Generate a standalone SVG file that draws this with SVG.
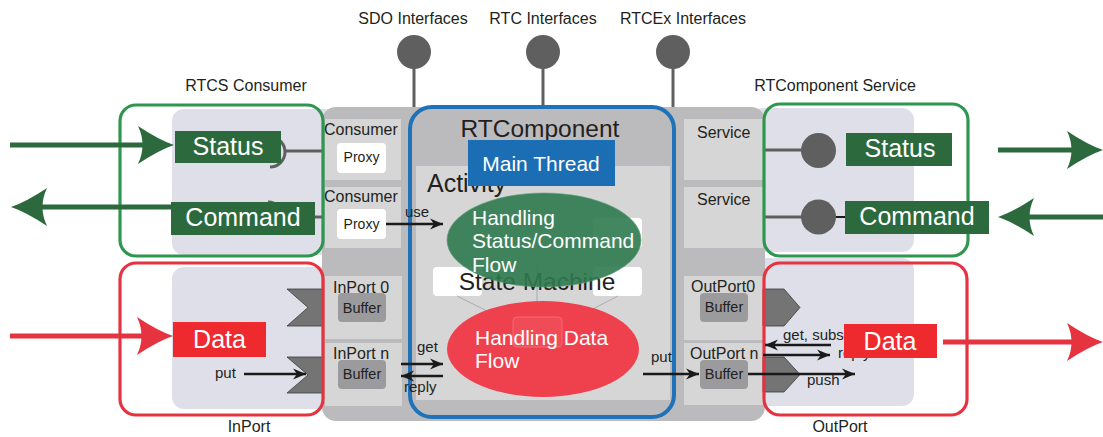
<svg xmlns="http://www.w3.org/2000/svg" width="1103" height="437" viewBox="0 0 1103 437">
<style>
text{font-family:"Liberation Sans",Arial,sans-serif;fill:#231f20}
.lbl{font-size:16px}
.sm{font-size:15px}
.wh{fill:#fff}
.big{font-size:25px;fill:#fff}
.cell{fill:#d6d6d6}
.buf{fill:#9b9b9d}
.prx{fill:#fff}
.lav{fill:#dfdfe9}
.gbox{fill:none;stroke:#2f9650;stroke-width:3.2}
.rbox{fill:none;stroke:#e63340;stroke-width:3.2}
.gfill{fill:#2c6a3d}
.rfill{fill:#ee2a2e}
.iface{fill:#5f5f5f}
.stem{stroke:#5f5f5f;stroke-width:3;fill:none}
.blk{stroke:#1a1a1a;stroke-width:2.5;fill:none;marker-end:url(#ah)}
.bigg{stroke:#2c6a3d;stroke-width:5;fill:none}
.bigr{stroke:#e63340;stroke-width:5;fill:none}
.chev{fill:#747474;stroke:#3a3a3a;stroke-width:0.8}
</style>
<defs>
<marker id="ah" viewBox="-13 -6 14 12" refX="0" refY="0" markerWidth="14" markerHeight="12" markerUnits="userSpaceOnUse" orient="auto">
<path d="M0,0 L-13,-5.5 L-9,0 L-13,5.5 Z" fill="#1a1a1a"/>
</marker>
<path id="bigHead" d="M0,0 Q-15,-5 -36,-19 Q-27,0 -36,19 Q-15,5 0,0 Z"/>
</defs>

<!-- lavender backgrounds -->
<g id="bg">
<rect class="lav" x="172" y="109" width="170" height="146" rx="12"/>
<rect class="lav" x="172" y="267" width="170" height="142" rx="12"/>
<rect class="lav" x="750" y="108" width="164" height="144" rx="12"/>
<rect class="lav" x="750" y="258" width="164" height="148" rx="12"/>
</g>

<!-- outer component gray -->
<g id="component-frame">
<rect x="322" y="107" width="443" height="314" rx="14" fill="#bbbbbd"/>
</g>

<!-- interfaces -->
<g id="sdo-interfaces">
<line class="stem" x1="414" y1="60" x2="414" y2="107"/>
<circle class="iface" cx="414" cy="52" r="17"/>
<text class="lbl" x="413" y="24" text-anchor="middle">SDO Interfaces</text>
</g>
<g id="rtc-interfaces">
<line class="stem" x1="543" y1="60" x2="543" y2="107"/>
<circle class="iface" cx="543" cy="52" r="17"/>
<text class="lbl" x="543" y="24" text-anchor="middle">RTC Interfaces</text>
</g>
<g id="rtcex-interfaces">
<line class="stem" x1="673" y1="60" x2="673" y2="107"/>
<circle class="iface" cx="673" cy="52" r="17"/>
<text class="lbl" x="683" y="24" text-anchor="middle">RTCEx Interfaces</text>
</g>

<!-- left cells -->
<g id="consumer-proxy-1">
<rect class="cell" x="325" y="119" width="76" height="61"/>
<text class="lbl" x="324" y="135">Consumer</text>
<rect class="prx" x="337" y="143" width="49" height="30" rx="4"/>
<text x="361.5" y="162" font-size="14" text-anchor="middle">Proxy</text>
</g>
<g id="consumer-proxy-2">
<rect class="cell" x="325" y="187" width="76" height="61"/>
<text class="lbl" x="324" y="202">Consumer</text>
<rect class="prx" x="337" y="209" width="49" height="30" rx="4"/>
<text x="361.5" y="229" font-size="14" text-anchor="middle">Proxy</text>
</g>
<g id="inport-0">
<rect class="cell" x="325" y="276" width="77" height="63"/>
<text class="lbl" x="333" y="293">InPort 0</text>
<rect class="buf" x="338" y="293" width="48" height="29" rx="4"/>
<text x="362" y="313" font-size="14.5" text-anchor="middle">Buffer</text>
</g>
<g id="inport-n">
<rect class="cell" x="325" y="343" width="77" height="63"/>
<text class="lbl" x="333" y="359">InPort n</text>
<rect class="buf" x="338" y="360" width="48" height="29" rx="4"/>
<text x="362" y="379" font-size="14.5" text-anchor="middle">Buffer</text>
</g>

<!-- right cells -->
<g id="service-1">
<rect class="cell" x="684" y="119" width="79" height="61"/>
<text class="lbl" x="697" y="138">Service</text>
</g>
<g id="service-2">
<rect class="cell" x="684" y="187" width="79" height="61"/>
<text class="lbl" x="697" y="205">Service</text>
</g>
<g id="outport-0">
<rect class="cell" x="684" y="276" width="79" height="64"/>
<text class="lbl" x="691" y="292">OutPort0</text>
<rect class="buf" x="700" y="293" width="48" height="29" rx="4"/>
<text x="724" y="312" font-size="14.5" text-anchor="middle">Buffer</text>
</g>
<g id="outport-n">
<rect class="cell" x="684" y="343" width="79" height="62"/>
<text class="lbl" x="690" y="359">OutPort n</text>
<rect class="buf" x="700" y="360" width="48" height="29" rx="4"/>
<text x="724" y="379" font-size="14.5" text-anchor="middle">Buffer</text>
</g>

<!-- RTComponent core -->
<g id="rtcomponent">
<text x="540" y="137" font-size="24.5" text-anchor="middle">RTComponent</text>
<rect x="416" y="166" width="254" height="234" fill="#d6d6d6"/>
<text x="427" y="192" font-size="25">Activity</text>
</g>
<g id="main-thread">
<rect x="468" y="140" width="147" height="46" fill="#1b6eb4"/>
<text class="wh" x="541" y="171" font-size="21" text-anchor="middle">Main Thread</text>
</g>
<g id="state-machine">
<rect x="593" y="218" width="49" height="30" rx="4" fill="#fff"/>
<rect x="433" y="267" width="49" height="29" rx="4" fill="#fff"/>
<rect x="593" y="267" width="49" height="29" rx="4" fill="#fff"/>
<line x1="457" y1="296" x2="515" y2="325" stroke="#9a9a9a" stroke-width="0.7"/>
<line x1="537" y1="262" x2="537" y2="318" stroke="#9a9a9a" stroke-width="0.7"/>
<line x1="618" y1="296" x2="562" y2="325" stroke="#9a9a9a" stroke-width="0.7"/>
<text x="537" y="290" font-size="24.5" text-anchor="middle">State Machine</text>
</g>
<g id="handling-data-flow">
<ellipse cx="543" cy="349" rx="96" ry="48" fill="#ef414d"/>
<rect x="513" y="317" width="49" height="30" rx="4" fill="#ffffff" fill-opacity="0.06" stroke="#f37a82" stroke-width="0.7"/>
<text class="wh" x="475" y="345" font-size="21">Handling Data</text>
<text class="wh" x="475" y="368" font-size="21">Flow</text>
</g>
<g id="handling-status-command-flow">
<ellipse cx="544" cy="240" rx="97" ry="47" fill="#2f7a4f" fill-opacity="0.9" stroke="#5c9a74" stroke-width="0.6"/>
<text class="wh" x="472" y="225" font-size="21">Handling</text>
<text class="wh" x="472" y="248" font-size="21">Status/Command</text>
<text class="wh" x="472" y="272" font-size="21">Flow</text>
</g>
<g id="rtcomponent-border">
<rect x="410" y="107" width="264" height="310" rx="22" fill="none" stroke="#1f72b8" stroke-width="4"/>
</g>

<!-- left side nodes -->
<g id="rtcs-consumer">
<path class="stem" d="M270,137 A15,15 0 0 1 270,167"/>
<line class="stem" x1="285" y1="151" x2="323" y2="151"/>
<path class="stem" d="M268,202 A15,15 0 0 1 268,232"/>
<line class="stem" x1="312" y1="217" x2="323" y2="217"/>
<rect class="gbox" x="120" y="105" width="203" height="151" rx="16"/>
<text class="lbl" x="246" y="91" text-anchor="middle">RTCS Consumer</text>
</g>
<g id="status-left">
<rect class="gfill" x="175" y="131" width="106" height="32"/>
<text class="big" x="228" y="155" text-anchor="middle">Status</text>
</g>
<g id="command-left">
<rect class="gfill" x="171" y="202" width="144" height="33"/>
<text class="big" x="243" y="226" text-anchor="middle">Command</text>
</g>
<g id="inport">
<polygon class="chev" points="287,289 323,289 323,326 287,326 308,307.5"/>
<polygon class="chev" points="287,357 323,357 323,393 287,393 308,375"/>
<rect class="rbox" x="120" y="263" width="203" height="152" rx="16"/>
<text class="lbl" x="249" y="432" text-anchor="middle">InPort</text>
</g>

<!-- right side nodes -->
<g id="rtcomponent-service">
<line class="stem" x1="763" y1="150" x2="805" y2="150"/>
<line class="stem" x1="763" y1="217" x2="805" y2="217"/>
<circle class="iface" cx="818.5" cy="150.5" r="17.5"/>
<circle class="iface" cx="818.5" cy="217" r="17.5"/>
<line x1="836" y1="217" x2="846" y2="217" stroke="#1a1a1a" stroke-width="2"/>
<rect class="gbox" x="764" y="104" width="204" height="152" rx="16"/>
<text class="lbl" x="835" y="91" text-anchor="middle">RTComponent Service</text>
</g>
<g id="status-right">
<rect class="gfill" x="846" y="133" width="106" height="33"/>
<text class="big" x="900" y="157" text-anchor="middle">Status</text>
</g>
<g id="command-right">
<rect class="gfill" x="845" y="201" width="144" height="33"/>
<text class="big" x="917" y="225" text-anchor="middle">Command</text>
</g>
<g id="outport">
<polygon class="chev" points="763,289 784,289 800,307.5 784,326 763,326"/>
<polygon class="chev" points="763,357 784,357 800,374.5 784,392 763,392"/>
<rect class="rbox" x="764" y="263" width="203" height="152" rx="16"/>
<text class="lbl" x="840" y="432" text-anchor="middle">OutPort</text>
</g>

<!-- connectors -->
<g id="connectors">
<line class="bigg" x1="10" y1="145" x2="160" y2="145"/>
<use href="#bigHead" transform="translate(174,145)" fill="#2c6a3d"/>
<line class="bigg" x1="171" y1="207" x2="25" y2="207"/>
<use href="#bigHead" transform="translate(11,207) rotate(180)" fill="#2c6a3d"/>
<line class="bigg" x1="998" y1="150" x2="1090" y2="150"/>
<use href="#bigHead" transform="translate(1103,150)" fill="#2c6a3d"/>
<line class="bigg" x1="1103" y1="217" x2="1012" y2="217"/>
<use href="#bigHead" transform="translate(998,217) rotate(180)" fill="#2c6a3d"/>
<line class="bigr" x1="10" y1="336" x2="160" y2="336"/>
<use href="#bigHead" transform="translate(173,336)" fill="#e63340"/>
<line class="bigr" x1="943" y1="342" x2="1090" y2="342"/>
<use href="#bigHead" transform="translate(1103,342)" fill="#e63340"/>

<text class="sm" x="215" y="378">put</text>
<line class="blk" x1="244" y1="374" x2="306" y2="374"/>
<text class="sm" x="405" y="217">use</text>
<line class="blk" x1="386" y1="224" x2="443" y2="224"/>
<text class="sm" x="417" y="352">get</text>
<line class="blk" x1="401" y1="364" x2="443" y2="364"/>
<text class="sm" x="404" y="392">reply</text>
<line class="blk" x1="443" y1="376" x2="401" y2="376"/>
<text class="sm" x="651" y="362">put</text>
<line class="blk" x1="643" y1="374" x2="699" y2="374"/>
<line class="blk" x1="748" y1="374" x2="855" y2="374"/>
<text class="sm" x="807" y="385">push</text>
<text class="sm" x="783" y="340">get, subscribe</text>
<line class="blk" x1="831" y1="345" x2="765" y2="345"/>
<text class="sm" x="838" y="358">reply</text>
<line class="blk" x1="763" y1="355" x2="830" y2="355"/>
</g>

<g id="data-left">
<rect class="rfill" x="173" y="322" width="93" height="35"/>
<text class="big" x="219.5" y="348" text-anchor="middle">Data</text>
</g>
<g id="data-right">
<rect class="rfill" x="844" y="324" width="93" height="34"/>
<text class="big" x="890" y="350" text-anchor="middle">Data</text>
</g>
</svg>
